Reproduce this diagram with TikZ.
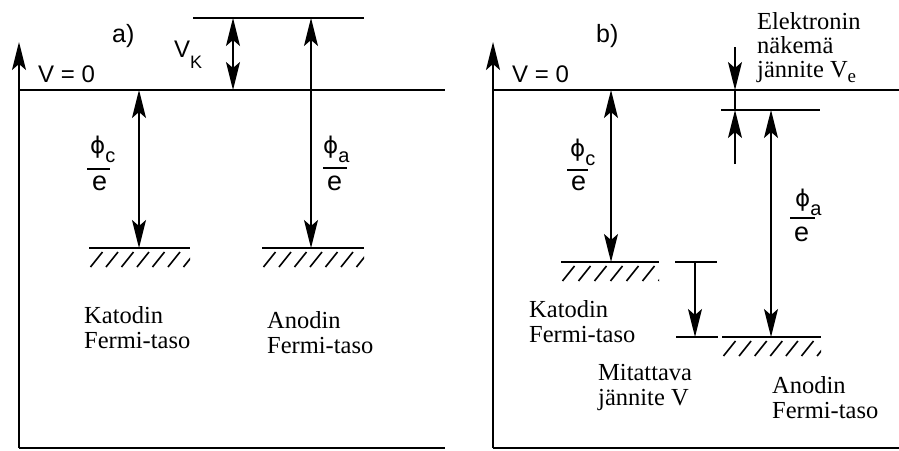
\documentclass[tikz,border=0pt]{standalone}
\usepackage{fontspec}
\setmainfont{Liberation Serif}
\newfontfamily\sansf{Liberation Sans}
\newfontfamily\phif{DejaVu Sans}
\usetikzlibrary{arrows.meta}
\newcommand\lowidx[3][9pt]{\raisebox{-#1}{\fontsize{#2}{#2}\selectfont #3}}
\newcommand\phisym{{\phif\fontsize{23}{23}\selectfont ϕ}}
\newcommand\hatchbelow[4]{%
  \begin{scope}
    \clip (#1,#3) rectangle (#2,#3+22);
    \foreach \k in {0,...,7}{\draw[hatchln] (#1+1.5+\k*#4,#3+19) -- ++(12,-15);}
  \end{scope}}
\begin{document}
\begin{tikzpicture}[x=1pt,y=-1pt,
  lvl/.style={line width=1.8pt},
  hd/.tip={Stealth[length=28pt,width=14pt,inset=6pt]},
  arr/.style={line width=1.6pt,-hd},
  darr/.style={line width=1.6pt,hd-hd},
  hatchln/.style={line width=1.6pt},
  txt/.style={inner sep=0pt,align=left,anchor=base west,font=\fontsize{24.5}{25}\selectfont},
  sans/.style={inner sep=0pt,anchor=base west,font=\sansf\fontsize{24}{24}\selectfont},
  den/.style={inner sep=0pt,anchor=base west,font=\sansf\fontsize{27}{27}\selectfont}]
\useasboundingbox (0,0) rectangle (899,450);

% ---------------- panel a ----------------
\coordinate (aTop) at (19,42);
\coordinate (aBot) at (19,448);
\coordinate (aBotR) at (445,448);
\coordinate (aZeroL) at (19,90);
\coordinate (aZeroR) at (445,90);
\coordinate (aVacL) at (193,18);
\coordinate (aVacR) at (364,18);
\coordinate (aVk0) at (233,90);
\coordinate (aVk1) at (233,18);
\coordinate (aPc0) at (139,90);
\coordinate (aPc1) at (139,248);
\coordinate (aPa0) at (311,18);
\coordinate (aPa1) at (311,248);
\coordinate (aFcL) at (89,248);
\coordinate (aFcR) at (190,248);
\coordinate (aFaL) at (262,248);
\coordinate (aFaR) at (364,248);

\draw[lvl,-hd] (aBot) -- (aTop);
\draw[lvl] (aBot) -- (aBotR);
\draw[lvl] (aZeroL) -- (aZeroR);
\draw[lvl] (aVacL) -- (aVacR);
\draw[lvl] (aFcL) -- (aFcR);
\draw[lvl] (aFaL) -- (aFaR);
\hatchbelow{89}{190}{248}{15.5}
\hatchbelow{262}{364}{248}{15.5}
\draw[darr] (aVk0) -- (aVk1);
\draw[darr] (aPc0) -- (aPc1);
\draw[darr] (aPa0) -- (aPa1);

\node[sans,font=\sansf\fontsize{25}{25}\selectfont] (aLab) at (112,42) {a)};
\node[sans] (aV0) at (38,82) {V = 0};
\node[sans] (aVK) at (174,57) {V\lowidx[11pt]{18}{K}};
\node[sans] (aPcN) at (90,153) {\phisym\lowidx{20}{c}};
\draw[lvl] (87,169) -- (110,169);
\node[den] (aPcD) at (92,190) {e};
\node[sans] (aPaN) at (323,153) {\phisym\lowidx{20}{a}};
\draw[lvl] (323,168) -- (347,168);
\node[den] (aPaD) at (327,190) {e};
\node[txt] (aKat) at (84,348) {Katodin\\Fermi-taso};
\node[txt] (aAno) at (267,353) {Anodin\\Fermi-taso};

% ---------------- panel b ----------------
\coordinate (bTop) at (493,42);
\coordinate (bBot) at (493,448);
\coordinate (bBotR) at (899,448);
\coordinate (bZeroL) at (493,90);
\coordinate (bZeroR) at (899,90);
\coordinate (bVacL) at (721,110);
\coordinate (bVacR) at (820,110);
\coordinate (bVe0) at (735,47);
\coordinate (bVe1) at (735,90);
\coordinate (bVe2) at (735,110);
\coordinate (bVe3) at (735,164);
\coordinate (bPc0) at (611,90);
\coordinate (bPc1) at (611,262);
\coordinate (bPa0) at (771,110);
\coordinate (bPa1) at (771,337);
\coordinate (bFcL) at (561,262);
\coordinate (bFcR) at (659,262);
\coordinate (bMtL) at (675,262);
\coordinate (bMtR) at (717,262);
\coordinate (bM0) at (695,262);
\coordinate (bM1) at (695,337);
\coordinate (bMbL) at (676,337);
\coordinate (bMbR) at (718,337);
\coordinate (bFaL) at (722,337);
\coordinate (bFaR) at (821,337);

\draw[lvl,-hd] (bBot) -- (bTop);
\draw[lvl] (bBot) -- (bBotR);
\draw[lvl] (bZeroL) -- (bZeroR);
\draw[lvl] (bVacL) -- (bVacR);
\draw[lvl] (bFcL) -- (bFcR);
\draw[lvl] (bFaL) -- (bFaR);
\draw[lvl] (bMtL) -- (bMtR);
\draw[lvl] (bMbL) -- (bMbR);
\hatchbelow{561}{659}{262}{16}
\hatchbelow{722}{821}{337}{15.6}
\draw[arr] (bVe0) -- (bVe1);
\draw[line width=1.6pt] (bVe1) -- (bVe2);
\draw[arr] (bVe3) -- (bVe2);
\draw[darr] (bPc0) -- (bPc1);
\draw[darr] (bPa0) -- (bPa1);
\draw[arr] (bM0) -- (bM1);

\node[sans,font=\sansf\fontsize{25}{25}\selectfont] (bLab) at (596,42) {b)};
\node[sans] (bV0) at (512,82) {V = 0};
\node[txt,font=\fontsize{24.5}{24}\selectfont] (bEl) at (757,77) {Elektronin\\näkemä\\jännite V\lowidx[5pt]{19}{e}};
\node[sans] (bPcN) at (570,156) {\phisym\lowidx{20}{c}};
\draw[lvl] (567,170) -- (588,170);
\node[den] (bPcD) at (571,190) {e};
\node[sans] (bPaN) at (795,206) {\phisym\lowidx{20}{a}};
\draw[lvl] (790,218) -- (815,218);
\node[den] (bPaD) at (794,241) {e};
\node[txt] (bKat) at (529,342) {Katodin\\Fermi-taso};
\node[txt] (bMit) at (598,405) {Mitattava\\jännite V};
\node[txt] (bAno) at (772,418) {Anodin\\Fermi-taso};
\end{tikzpicture}
\end{document}
